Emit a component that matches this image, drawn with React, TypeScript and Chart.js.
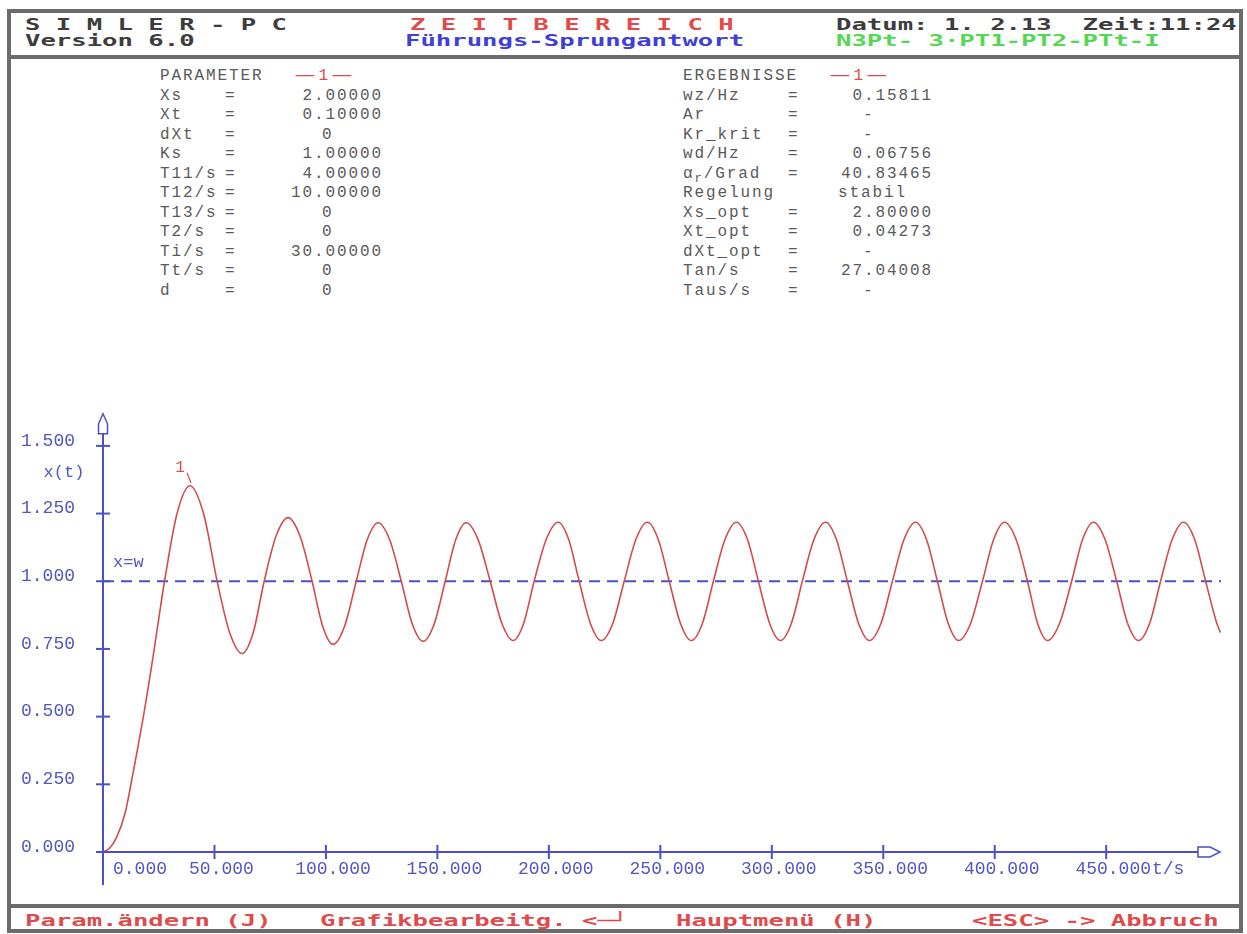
import React, { useEffect, useRef } from "react";
import { Chart, registerables } from "chart.js";

Chart.register(...registerables);

// ---------- data ----------
const HEADER_LEFT = ["S I M L E R - P C", "Version 6.0"];
const HEADER_MID = ["Z E I T B E R E I C H", "Führungs-Sprungantwort"];
const HEADER_RIGHT = ["Datum: 1. 2.13  Zeit:11:24", "N3Pt- 3·PT1-PT2-PTt-I"];
const FOOTER_ITEMS = ["Param.ändern (J)", "Grafikbearbeitg. <─┘", "Hauptmenü (H)", "<ESC> -> Abbruch"];

const PARAM_TITLE = "PARAMETER";
const PARAM_LABELS = ["Xs", "Xt", "dXt", "Ks", "T11/s", "T12/s", "T13/s", "T2/s", "Ti/s", "Tt/s", "d"];
const PARAM_VALUES = ["2.00000", "0.10000", "0", "1.00000", "4.00000", "10.00000", "0", "0", "30.00000", "0", "0"];

const RESULT_TITLE = "ERGEBNISSE";
const RESULT_LABELS = ["wz/Hz", "Ar", "Kr_krit", "wd/Hz", "α|r|/Grad", "Regelung", "Xs_opt", "Xt_opt", "dXt_opt", "Tan/s", "Taus/s"];
const RESULT_HAS_EQ = [true, true, true, true, true, false, true, true, true, true, true];
const RESULT_VALUES = ["0.15811", "-", "-", "0.06756", "40.83465", "stabil", "2.80000", "0.04273", "-", "27.04008", "-"];

const CURVE_ID = "1";
const SETPOINT = 1.0;
const SETPOINT_LABEL = "x=w";
const Y_TITLE = "x(t)";
const X_UNIT = "t/s";

const X_MIN = 0;
const X_MAX = 501.5;
const Y_MIN = 0;
const Y_MAX = 1.6;
const X_TICKS = [0, 50, 100, 150, 200, 250, 300, 350, 400, 450];
const Y_TICKS = [0, 0.25, 0.5, 0.75, 1.0, 1.25, 1.5];

// time in s
const T_S = [
  0, 3.0, 6.1, 9.9, 12.6, 15.6, 18.1, 20.3, 22.9, 25.1, 27.6, 33.2, 39.0, 45.1, 51.2, 56.8, 62.4, 67.4,
  72.3, 77.6, 83.0, 88.4, 93.8, 98.5, 103.2, 108.4, 113.6, 118.5, 123.4, 128.6, 133.8, 138.7, 143.6,
  148.6, 153.5, 158.2, 162.9, 168.3, 173.7, 178.9, 184.0, 188.7, 193.4, 198.8, 204.2, 208.9, 213.6,
  218.6, 223.5, 228.7, 233.8, 239.0, 244.2, 249.1, 254.0, 259.0, 263.9, 268.9, 273.8, 279.0, 284.1,
  289.1, 294.0, 299.0, 303.9, 308.8, 313.7, 318.9, 324.1, 329.0, 333.9, 338.9, 343.8, 349.0, 354.1,
  359.3, 364.5, 369.4, 374.3, 379.1, 383.8, 389.2, 394.5, 399.5, 404.4, 409.6, 414.7, 419.2, 423.7,
  429.1, 434.5, 439.4, 444.3, 449.5, 454.7, 459.6, 464.5, 469.5, 474.4, 479.6, 484.7, 489.7, 494.6,
  499.6, 501.3,
];
// response x(t)
const X_T = [
  0, 0.015, 0.054, 0.143, 0.253, 0.385, 0.499, 0.609, 0.745, 0.867, 1.0, 1.25, 1.353, 1.25, 1.0, 0.811,
  0.733, 0.811, 1.0, 1.166, 1.235, 1.166, 1.0, 0.835, 0.767, 0.835, 1.0, 1.153, 1.216, 1.153, 1.0,
  0.843, 0.778, 0.843, 1.0, 1.153, 1.216, 1.153, 1.0, 0.845, 0.781, 0.845, 1.0, 1.154, 1.218, 1.154,
  1.0, 0.845, 0.781, 0.845, 1.0, 1.154, 1.218, 1.154, 1.0, 0.845, 0.781, 0.845, 1.0, 1.154, 1.218,
  1.154, 1.0, 0.845, 0.781, 0.845, 1.0, 1.154, 1.218, 1.154, 1.0, 0.845, 0.781, 0.845, 1.0, 1.154,
  1.218, 1.154, 1.0, 0.845, 0.781, 0.845, 1.0, 1.154, 1.218, 1.154, 1.0, 0.845, 0.781, 0.845, 1.0,
  1.154, 1.218, 1.154, 1.0, 0.845, 0.781, 0.845, 1.0, 1.154, 1.218, 1.154, 1.0, 0.845, 0.810,
];

// ---------- styles ----------
const GRAY = "#3c3c3c";
const TXT_GRAY = "#5a5a5a";
const RED = "#e04a4a";
const CURVE_RED = "#d24c4c";
const HEAD_BLUE = "#3d3fd8";
const GREEN = "#55d655";
const AXIS_BLUE = "#4b50c6";
const LABEL_BLUE = "#5357bf";
const FRAME = "#6b6b6b";

const DOS_FONT = '"DejaVu Sans Mono", monospace';
const THIN_FONT = '"Liberation Mono", monospace';

const dos = (left: number, top: number, color: string): React.CSSProperties => ({
  position: "absolute",
  left,
  top,
  fontFamily: DOS_FONT,
  fontWeight: "bold",
  fontSize: 16,
  lineHeight: "16px",
  whiteSpace: "pre",
  color,
  transform: "scaleX(1.6)",
  transformOrigin: "left top",
});

const thin = (left: number, top: number, color = TXT_GRAY): React.CSSProperties => ({
  position: "absolute",
  left,
  top,
  fontFamily: THIN_FONT,
  fontSize: 16,
  lineHeight: "16px",
  letterSpacing: "1.9px",
  whiteSpace: "pre",
  color,
});

const rowTop = (k: number) => 68 + 19.5 * k;

function RedId({ left }: { left: number }) {
  const dash: React.CSSProperties = { display: "inline-block", transform: "scaleX(1.9)", transformOrigin: "center" };
  return (
    <div style={{ ...thin(left, rowTop(0), RED), letterSpacing: "0px" }}>
      <span style={{ ...dash, marginLeft: 4 }}>—</span>
      <span style={{ margin: "0 9px" }}>{CURVE_ID}</span>
      <span style={dash}>—</span>
    </div>
  );
}

function Label({ text }: { text: string }) {
  if (text.includes("|")) {
    const [a, sub, b] = text.split("|");
    return (
      <>
        {a}
        <span style={{ fontSize: 12, position: "relative", top: 4 }}>{sub}</span>
        {b}
      </>
    );
  }
  return <>{text}</>;
}

const decorPlugin = {
  id: "decor",
  afterDatasetsDraw(chart: any) {
    const { ctx, chartArea, scales } = chart;
    const x = scales.x;
    const y = scales.y;
    const x0 = x.getPixelForValue(X_MIN);
    const y0 = y.getPixelForValue(Y_MIN);
    const yTop = chartArea.top;
    const xa = chartArea.right - 23;
    ctx.save();
    ctx.strokeStyle = AXIS_BLUE;
    ctx.lineWidth = 2;
    // y axis
    ctx.beginPath();
    ctx.moveTo(x0, y0 + 33);
    ctx.lineTo(x0, yTop + 15);
    ctx.stroke();
    // x axis
    ctx.beginPath();
    ctx.moveTo(x0 - 7, y0);
    ctx.lineTo(xa, y0);
    ctx.stroke();
    // arrows
    ctx.lineWidth = 1.5;
    ctx.beginPath();
    ctx.moveTo(x0 - 4.5, yTop + 15);
    ctx.lineTo(x0 - 4.5, yTop + 5);
    ctx.lineTo(x0, yTop - 5);
    ctx.lineTo(x0 + 4.5, yTop + 5);
    ctx.lineTo(x0 + 4.5, yTop + 15);
    ctx.closePath();
    ctx.stroke();
    ctx.beginPath();
    ctx.moveTo(xa, y0 - 5);
    ctx.lineTo(xa + 12, y0 - 5);
    ctx.lineTo(xa + 22, y0);
    ctx.lineTo(xa + 12, y0 + 5);
    ctx.lineTo(xa, y0 + 5);
    ctx.closePath();
    ctx.stroke();
    // tick marks
    ctx.lineWidth = 2;
    y.ticks.forEach((t: any) => {
      const p = y.getPixelForValue(t.value);
      ctx.beginPath();
      ctx.moveTo(x0 - 7, p);
      ctx.lineTo(x0 + 7, p);
      ctx.stroke();
    });
    x.ticks.forEach((t: any) => {
      if (t.value === X_MIN) return;
      const p = x.getPixelForValue(t.value);
      ctx.beginPath();
      ctx.moveTo(p, y0 - 7);
      ctx.lineTo(p, y0 + 7);
      ctx.stroke();
    });
    // x tick labels
    ctx.fillStyle = LABEL_BLUE;
    ctx.font = `18px ${THIN_FONT}`;
    ctx.textBaseline = "middle";
    ctx.textAlign = "left";
    let lastRight = x0;
    x.ticks.forEach((t: any) => {
      const s = Number(t.value).toFixed(3);
      const w = ctx.measureText(s).width;
      let left = x.getPixelForValue(t.value) + 7 - w / 2;
      if (left < x0 + 10) left = x0 + 10;
      ctx.fillText(s, left, y0 + 17);
      lastRight = left + w;
    });
    ctx.fillText(X_UNIT, lastRight + 1, y0 + 17);
    // axis title and setpoint label
    ctx.font = `17px ${THIN_FONT}`;
    ctx.textAlign = "center";
    ctx.fillText(Y_TITLE, x0 - 39, y.getPixelForValue(1.4));
    ctx.textAlign = "left";
    ctx.fillText(SETPOINT_LABEL, x0 + 10, y.getPixelForValue(SETPOINT) - 19);
    // curve id label at the first maximum
    let iMax = 0;
    X_T.forEach((v, i) => {
      if (v > X_T[iMax]) iMax = i;
    });
    const px = x.getPixelForValue(T_S[iMax]);
    const py = y.getPixelForValue(X_T[iMax]);
    ctx.fillStyle = CURVE_RED;
    ctx.strokeStyle = CURVE_RED;
    ctx.font = `16px ${THIN_FONT}`;
    ctx.textAlign = "center";
    ctx.fillText(CURVE_ID, px - 10, py - 18);
    ctx.lineWidth = 1.2;
    ctx.beginPath();
    ctx.moveTo(px - 3, py - 13);
    ctx.lineTo(px + 1, py - 3);
    ctx.stroke();
    ctx.restore();
  },
};

export default function App() {
  const canvasRef = useRef<HTMLCanvasElement>(null);

  useEffect(() => {
    const canvas = canvasRef.current;
    if (!canvas) return;
    const chart = new Chart(canvas, {
      type: "line",
      data: {
        datasets: [
          {
            label: CURVE_ID,
            data: T_S.map((t, i) => ({ x: t, y: X_T[i] })),
            borderColor: CURVE_RED,
            borderWidth: 1.6,
            pointRadius: 0,
            cubicInterpolationMode: "monotone",
            fill: false,
          },
          {
            label: SETPOINT_LABEL,
            data: [
              { x: X_MIN, y: SETPOINT },
              { x: X_MAX, y: SETPOINT },
            ],
            borderColor: AXIS_BLUE,
            borderWidth: 2,
            borderDash: [11, 7],
            pointRadius: 0,
            fill: false,
          },
        ],
      },
      options: {
        responsive: false,
        maintainAspectRatio: false,
        devicePixelRatio: 1,
        animation: false,
        layout: { padding: { top: 38, right: 26, left: 0, bottom: 0 } },
        plugins: { legend: { display: false }, tooltip: { enabled: false } },
        scales: {
          x: {
            type: "linear",
            min: X_MIN,
            max: X_MAX,
            grid: { display: false, drawTicks: false },
            border: { display: false },
            ticks: { display: false },
            afterBuildTicks: (axis: any) => {
              axis.ticks = X_TICKS.map((v) => ({ value: v }));
            },
            afterFit: (axis: any) => {
              axis.height = 48;
            },
          },
          y: {
            type: "linear",
            min: Y_MIN,
            max: Y_MAX,
            grid: { display: false, drawTicks: false },
            border: { display: false },
            ticks: {
              color: LABEL_BLUE,
              padding: 28,
              labelOffset: -5,
              font: { family: "Liberation Mono", size: 18 },
              callback: (v: any) => Number(v).toFixed(3),
            },
            afterBuildTicks: (axis: any) => {
              axis.ticks = Y_TICKS.map((v) => ({ value: v }));
            },
            afterFit: (axis: any) => {
              axis.width = 103;
            },
          },
        },
      },
      plugins: [decorPlugin],
    } as any);
    return () => chart.destroy();
  }, []);

  return (
    <div style={{ position: "absolute", left: 0, top: 0, width: 1247, height: 934, background: "#fff", overflow: "hidden" }}>
      {/* frame */}
      <div style={{ position: "absolute", left: 7, top: 9, width: 1236, height: 924, border: `4px solid ${FRAME}`, boxSizing: "border-box" }} />
      <div style={{ position: "absolute", left: 7, top: 55, width: 1236, height: 4, background: FRAME }} />
      <div style={{ position: "absolute", left: 7, top: 904, width: 1236, height: 4, background: FRAME }} />

      {/* header */}
      <div style={dos(25, 17, GRAY)}>{HEADER_LEFT[0]}</div>
      <div style={dos(25, 32.5, GRAY)}>{HEADER_LEFT[1]}</div>
      <div style={dos(410, 17, RED)}>{HEADER_MID[0]}</div>
      <div style={dos(405, 32.5, HEAD_BLUE)}>{HEADER_MID[1]}</div>
      <div style={dos(836, 17, GRAY)}>{HEADER_RIGHT[0]}</div>
      <div style={dos(836, 32.5, GREEN)}>{HEADER_RIGHT[1]}</div>

      {/* parameters */}
      <div style={thin(160, rowTop(0))}>{PARAM_TITLE}</div>
      <RedId left={296} />
      {PARAM_LABELS.map((l, i) => (
        <React.Fragment key={"p" + i}>
          <div style={thin(160, rowTop(i + 1))}>{l}</div>
          <div style={thin(225, rowTop(i + 1))}>=</div>
          {PARAM_VALUES[i].includes(".") ? (
            <div style={{ ...thin(0, rowTop(i + 1)), width: 383, textAlign: "right" }}>{PARAM_VALUES[i]}</div>
          ) : (
            <div style={thin(322, rowTop(i + 1))}>{PARAM_VALUES[i]}</div>
          )}
        </React.Fragment>
      ))}

      {/* results */}
      <div style={thin(683, rowTop(0))}>{RESULT_TITLE}</div>
      <RedId left={831} />
      {RESULT_LABELS.map((l, i) => (
        <React.Fragment key={"r" + i}>
          <div style={thin(683, rowTop(i + 1))}>
            <Label text={l} />
          </div>
          {RESULT_HAS_EQ[i] && <div style={thin(788, rowTop(i + 1))}>=</div>}
          {RESULT_VALUES[i].includes(".") ? (
            <div style={{ ...thin(0, rowTop(i + 1)), width: 933, textAlign: "right" }}>{RESULT_VALUES[i]}</div>
          ) : (
            <div style={thin(RESULT_VALUES[i] === "-" ? 863 : 838, rowTop(i + 1))}>{RESULT_VALUES[i]}</div>
          )}
        </React.Fragment>
      ))}

      {/* chart */}
      <canvas ref={canvasRef} width={1247} height={520} style={{ position: "absolute", left: 0, top: 380 }} />

      {/* footer */}
      <div style={dos(25, 913, RED)}>{FOOTER_ITEMS[0]}</div>
      <div style={dos(320, 913, RED)}>{FOOTER_ITEMS[1]}</div>
      <div style={dos(676, 913, RED)}>{FOOTER_ITEMS[2]}</div>
      <div style={dos(972, 913, RED)}>{FOOTER_ITEMS[3]}</div>
    </div>
  );
}
